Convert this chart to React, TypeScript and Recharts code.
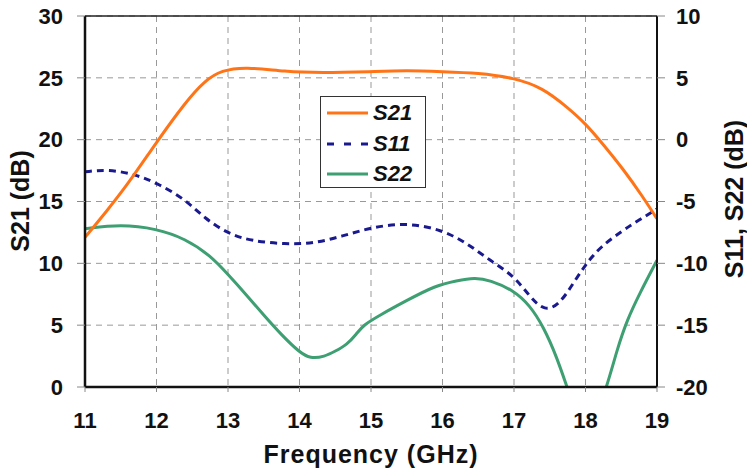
import React from "react";
import {
  LineChart,
  Line,
  XAxis,
  YAxis,
  CartesianGrid,
  ReferenceLine,
  Label,
} from "recharts";

// frequency ticks (GHz)
const freqTicks = [11, 12, 13, 14, 15, 16, 17, 18, 19];
const s21Ticks = [0, 5, 10, 15, 20, 25, 30];
const sxxTicks = [-20, -15, -10, -5, 0, 5, 10];

// S21 (left axis, dB)
const s21Freq = [11, 11.3, 11.6, 12, 12.4, 12.68, 12.91, 13.24, 13.8, 14.3, 15, 15.5, 16, 16.5, 17, 17.4, 17.75, 18, 18.25, 18.53, 18.8, 19];
const s21Db = [12.1, 14.2, 16.4, 19.8, 23.0, 24.8, 25.6, 25.9, 25.5, 25.4, 25.5, 25.6, 25.5, 25.4, 25.0, 24.2, 22.6, 21.3, 19.6, 17.6, 15.4, 13.6];

// S11 (right axis, dB)
const s11Freq = [11, 11.33, 11.7, 12, 12.4, 12.68, 13, 13.33, 13.8, 14.2, 14.6, 15, 15.5, 16, 16.35, 16.66, 17, 17.22, 17.43, 17.64, 17.83, 18, 18.2, 18.53, 18.75, 19];
const s11Db = [-2.6, -2.4, -2.8, -3.5, -4.8, -6.4, -7.6, -8.2, -8.45, -8.4, -7.8, -7.1, -6.7, -7.3, -8.4, -9.75, -11.0, -12.7, -13.9, -13.3, -11.6, -10.1, -8.7, -7.3, -6.5, -5.6];

// S22 (right axis, dB) - dips below -20 around 18 GHz
const s22Freq = [11, 11.5, 12, 12.4, 12.75, 13, 13.25, 13.5, 13.75, 14, 14.15, 14.35, 14.5, 14.66, 14.8, 14.89, 15.12, 15.5, 15.9, 16.2, 16.45, 16.66, 17, 17.22, 17.41, 17.6, 17.74, 18.02, 18.3, 18.44, 18.58, 18.76, 19];
const s22Db = [-7.2, -6.85, -7.2, -8.0, -9.35, -10.9, -12.5, -14.2, -15.8, -17.2, -17.7, -17.55, -17.1, -16.6, -15.7, -15.0, -14.2, -13.0, -11.8, -11.4, -11.15, -11.35, -12.2, -13.4, -15.1, -17.6, -20, -24.5, -20, -17.0, -14.6, -12.4, -9.75];

const toPoints = (freq: number[], vals: number[]) =>
  freq.map((f, i) => ({ f, v: vals[i] }));

const s21Data = toPoints(s21Freq, s21Db);
const s11Data = toPoints(s11Freq, s11Db);
const s22Data = toPoints(s22Freq, s22Db);

const FONT = "'Liberation Sans', Arial, sans-serif";
const TICK = { fill: "#111", fontSize: 22, fontWeight: 700, fontFamily: FONT };

const legendItems = [
  { name: "S21", color: "#FF7417", dash: undefined },
  { name: "S11", color: "#1a1a8e", dash: "7 10" },
  { name: "S22", color: "#3d9f72", dash: undefined },
];

const SideTitle = ({ x, y, text }: { x: number; y: number; text: string }) => (
  <text
    x={x}
    y={y}
    transform={`rotate(-90, ${x}, ${y})`}
    textAnchor="middle"
    dominantBaseline="central"
    fill="#111"
    fontSize={25}
    fontWeight={700}
    fontFamily={FONT}
  >
    {text}
  </text>
);

export default function App() {
  return (
    <div style={{ position: "absolute", left: 0, top: 0, width: 747, height: 470, background: "#fff" }}>
      <LineChart width={747} height={470} margin={{ top: 16, right: 0, bottom: 0, left: 0 }}>
        <CartesianGrid yAxisId="left" stroke="#999" strokeDasharray="6 5" />
        <XAxis
          type="number"
          dataKey="f"
          domain={[11, 19]}
          ticks={freqTicks}
          allowDataOverflow
          height={83}
          tick={TICK}
          tickSize={5}
          tickMargin={20}
          tickLine={{ stroke: "#888" }}
          axisLine={{ stroke: "#111", strokeWidth: 2.5 }}
        >
          <Label
            content={() => (
              <text
                x={371}
                y={463}
                textAnchor="middle"
                fill="#111"
                fontSize={25}
                fontWeight={700}
                fontFamily={FONT}
                letterSpacing={1}
              >
                Frequency (GHz)
              </text>
            )}
          />
        </XAxis>
        <YAxis
          yAxisId="left"
          domain={[0, 30]}
          ticks={s21Ticks}
          allowDataOverflow
          width={85}
          tick={TICK}
          tickSize={8}
          tickMargin={14}
          tickLine={{ stroke: "#888" }}
          axisLine={{ stroke: "#111", strokeWidth: 2.5 }}
        >
          <Label content={() => <SideTitle x={20} y={201} text="S21 (dB)" />} />
        </YAxis>
        <YAxis
          yAxisId="right"
          orientation="right"
          domain={[-20, 10]}
          ticks={sxxTicks}
          allowDataOverflow
          width={90}
          tick={TICK}
          tickSize={8}
          tickMargin={11}
          tickLine={{ stroke: "#888" }}
          axisLine={{ stroke: "#111", strokeWidth: 2 }}
        >
          <Label content={() => <SideTitle x={734} y={199} text="S11, S22 (dB)" />} />
        </YAxis>
        <ReferenceLine yAxisId="left" y={30} stroke="#222" strokeWidth={1.5} />
        <Line
          yAxisId="right"
          data={s22Data}
          dataKey="v"
          type="basis"
          stroke="#3d9f72"
          strokeWidth={3}
          dot={false}
          isAnimationActive={false}
        />
        <Line
          yAxisId="right"
          data={s11Data}
          dataKey="v"
          type="basis"
          stroke="#1a1a8e"
          strokeWidth={3}
          strokeDasharray="7 5"
          dot={false}
          isAnimationActive={false}
        />
        <Line
          yAxisId="left"
          data={s21Data}
          dataKey="v"
          type="basis"
          stroke="#FF7417"
          strokeWidth={3}
          dot={false}
          isAnimationActive={false}
        />
      </LineChart>
      <div
        style={{
          position: "absolute",
          left: 320,
          top: 96,
          width: 104,
          height: 90,
          border: "1.5px solid #333",
          background: "#fff",
        }}
      >
        {legendItems.map((item, i) => (
          <div
            key={item.name}
            style={{ position: "absolute", left: 0, top: 4 + i * 30.5, height: 24, display: "flex", alignItems: "center" }}
          >
            <svg width={52} height={24}>
              <line x1={6} x2={47} y1={12} y2={12} stroke={item.color} strokeWidth={3} strokeDasharray={item.dash} />
            </svg>
            <span
              style={{
                fontFamily: FONT,
                fontSize: 22,
                fontWeight: 700,
                fontStyle: "italic",
                color: "#111",
                lineHeight: "24px",
              }}
            >
              {item.name}
            </span>
          </div>
        ))}
      </div>
    </div>
  );
}
